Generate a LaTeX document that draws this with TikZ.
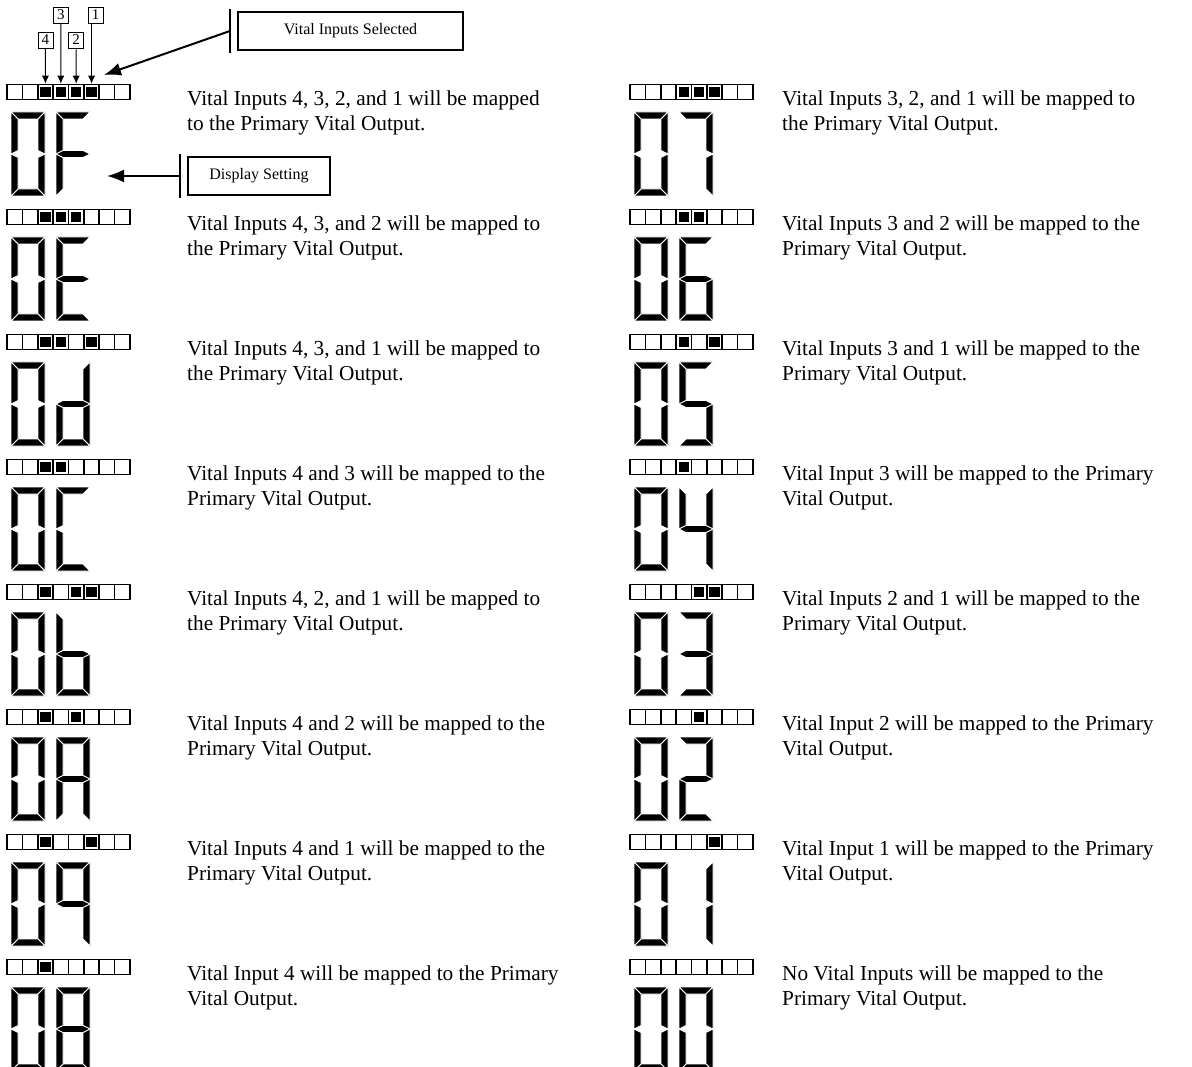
\documentclass[tikz,border=0pt]{standalone}
\usepackage{fontspec}
\setmainfont{Liberation Serif}
\usetikzlibrary{arrows.meta,positioning}

% one seven-segment digit, origin at its top left corner
\tikzset{
  sega/.pic={\path[lcdseg] (0,0) -- (34,0) -- (27,7) -- (7,7) -- cycle;},
  segb/.pic={\path[lcdseg] (34,0) -- (27,7) -- (27,38.5) -- (34,42) -- cycle;},
  segc/.pic={\path[lcdseg] (34,42) -- (27,45.5) -- (27,77) -- (34,84) -- cycle;},
  segd/.pic={\path[lcdseg] (0,84) -- (7,77) -- (27,77) -- (34,84) -- cycle;},
  sege/.pic={\path[lcdseg] (0,42) -- (7,45.5) -- (7,77) -- (0,84) -- cycle;},
  segf/.pic={\path[lcdseg] (0,0) -- (7,7) -- (7,38.5) -- (0,42) -- cycle;},
  segg/.pic={\path[lcdseg] (0,42) -- (7,38.5) -- (27,38.5) -- (34,42) -- (27,45.5) -- (7,45.5) -- cycle;}
}

% led bar: name, left x, centre y, eight on/off flags
\newcommand\ledbar[4]{%
  \foreach \f [count=\i] in {#4}{%
    \node[ledcell] (#1_\i) at ({#2+(\i-0.5)*15.375},{#3}) {};
    \ifnum\f=1 \node[ledon] (#1_\i_on) at (#1_\i) {};\fi
  }}

% one setting: name, x shift, text x, y of first text line, flags, second digit, text
\newcommand\hexrow[7]{%
  \ledbar{bar_#1}{#2+7}{#4-6}{#5}%
  \foreach \s in {a,b,c,d,e,f} \pic at ({#2+11},{#4+14}) {seg\s};%
  \foreach \s in {#6} \pic at ({#2+56},{#4+14}) {seg\s};%
  \node[note] (txt_#1) at (#3,{#4-7.5}) {#7};%
}

\begin{document}
\begin{tikzpicture}[x=1pt,y=-1pt]
  \tikzstyle{lcdseg}=[fill=black, draw=white, line width=0.8pt]
  \tikzstyle{ledcell}=[draw, line width=1.6pt, minimum width=15.375pt, minimum height=15pt, inner sep=0pt]
  \tikzstyle{ledon}=[fill=black, minimum size=10.5pt, inner sep=0pt]
  \tikzstyle{note}=[anchor=north west, inner sep=0pt, align=left, font=\fontsize{21.3}{25}\selectfont]
  \tikzstyle{numbox}=[draw, line width=0.8pt, minimum width=15pt, minimum height=16pt, inner sep=0pt, font=\fontsize{15}{15}\selectfont]
  \tikzstyle{callout}=[draw, line width=2pt, minimum height=38pt, inner sep=0pt, font=\fontsize{16}{16}\selectfont]
  \tikzstyle{pin}=[-{Latex[length=8pt,width=7pt]}, line width=0.9pt]
  \tikzstyle{bigarrow}=[-{Latex[length=17pt,width=13pt]}, line width=2pt]

  \useasboundingbox (0,0) rectangle (1192,1067);

  % left column
  \hexrow{0F}{0}{187}{98}{0,0,1,1,1,1,0,0}{a,e,f,g}{Vital Inputs 4, 3, 2, and 1 will be mapped\\to the Primary Vital Output.}
  \hexrow{0E}{0}{187}{223}{0,0,1,1,1,0,0,0}{a,d,e,f,g}{Vital Inputs 4, 3, and 2 will be mapped to\\the Primary Vital Output.}
  \hexrow{0d}{0}{187}{348}{0,0,1,1,0,1,0,0}{b,c,d,e,g}{Vital Inputs 4, 3, and 1 will be mapped to\\the Primary Vital Output.}
  \hexrow{0C}{0}{187}{473}{0,0,1,1,0,0,0,0}{a,d,e,f}{Vital Inputs 4 and 3 will be mapped to the\\Primary Vital Output.}
  \hexrow{0b}{0}{187}{598}{0,0,1,0,1,1,0,0}{c,d,e,f,g}{Vital Inputs 4, 2, and 1 will be mapped to\\the Primary Vital Output.}
  \hexrow{0A}{0}{187}{723}{0,0,1,0,1,0,0,0}{a,b,c,e,f,g}{Vital Inputs 4 and 2 will be mapped to the\\Primary Vital Output.}
  \hexrow{09}{0}{187}{848}{0,0,1,0,0,1,0,0}{a,b,c,f,g}{Vital Inputs 4 and 1 will be mapped to the\\Primary Vital Output.}
  \hexrow{08}{0}{187}{973}{0,0,1,0,0,0,0,0}{a,b,c,d,e,f,g}{Vital Input 4 will be mapped to the Primary\\Vital Output.}

  % right column
  \hexrow{07}{623}{782}{98}{0,0,0,1,1,1,0,0}{a,b,c}{Vital Inputs 3, 2, and 1 will be mapped to\\the Primary Vital Output.}
  \hexrow{06}{623}{782}{223}{0,0,0,1,1,0,0,0}{a,c,d,e,f,g}{Vital Inputs 3 and 2 will be mapped to the\\Primary Vital Output.}
  \hexrow{05}{623}{782}{348}{0,0,0,1,0,1,0,0}{a,c,d,f,g}{Vital Inputs 3 and 1 will be mapped to the\\Primary Vital Output.}
  \hexrow{04}{623}{782}{473}{0,0,0,1,0,0,0,0}{b,c,f,g}{Vital Input 3 will be mapped to the Primary\\Vital Output.}
  \hexrow{03}{623}{782}{598}{0,0,0,0,1,1,0,0}{a,b,c,d,g}{Vital Inputs 2 and 1 will be mapped to the\\Primary Vital Output.}
  \hexrow{02}{623}{782}{723}{0,0,0,0,1,0,0,0}{a,b,d,e,g}{Vital Input 2 will be mapped to the Primary\\Vital Output.}
  \hexrow{01}{623}{782}{848}{0,0,0,0,0,1,0,0}{b,c}{Vital Input 1 will be mapped to the Primary\\Vital Output.}
  \hexrow{00}{623}{782}{973}{0,0,0,0,0,0,0,0}{a,b,c,d,e,f}{No Vital Inputs will be mapped to the\\Primary Vital Output.}

  % input numbers over the first bar
  \node[numbox] (in_3) at (60.8,15) {3};
  \node[numbox] (in_1) at (95.5,15) {1};
  \node[numbox] (in_4) at (45.4,40) {4};
  \node[numbox] (in_2) at (76.2,40) {2};
  \draw[pin] (in_4.south) -- (bar_0F_3.north);
  \draw[pin] (in_3.south) -- (bar_0F_4.north);
  \draw[pin] (in_2.south) -- (bar_0F_5.north);
  \draw[pin] (in_1.south -| bar_0F_6.north) -- (bar_0F_6.north);

  % callouts
  \node[callout, minimum width=225pt] (sel) at (350.5,31) {Vital Inputs Selected};
  \draw[line width=2.5pt] ([shift={(-7,-2)}]sel.north west) -- ([shift={(-7,2)}]sel.south west);
  \coordinate (sel_tip) at (104,75);
  \draw[bigarrow] ([xshift=-7pt]sel.west) -- (sel_tip);

  \node[callout, minimum width=142pt] (disp) at (259,176) {Display Setting};
  \draw[line width=2.5pt] ([shift={(-7,-2)}]disp.north west) -- ([shift={(-7,2)}]disp.south west);
  \coordinate (disp_tip) at (107,176);
  \draw[bigarrow] ([xshift=-7pt]disp.west) -- (disp_tip);
\end{tikzpicture}
\end{document}
